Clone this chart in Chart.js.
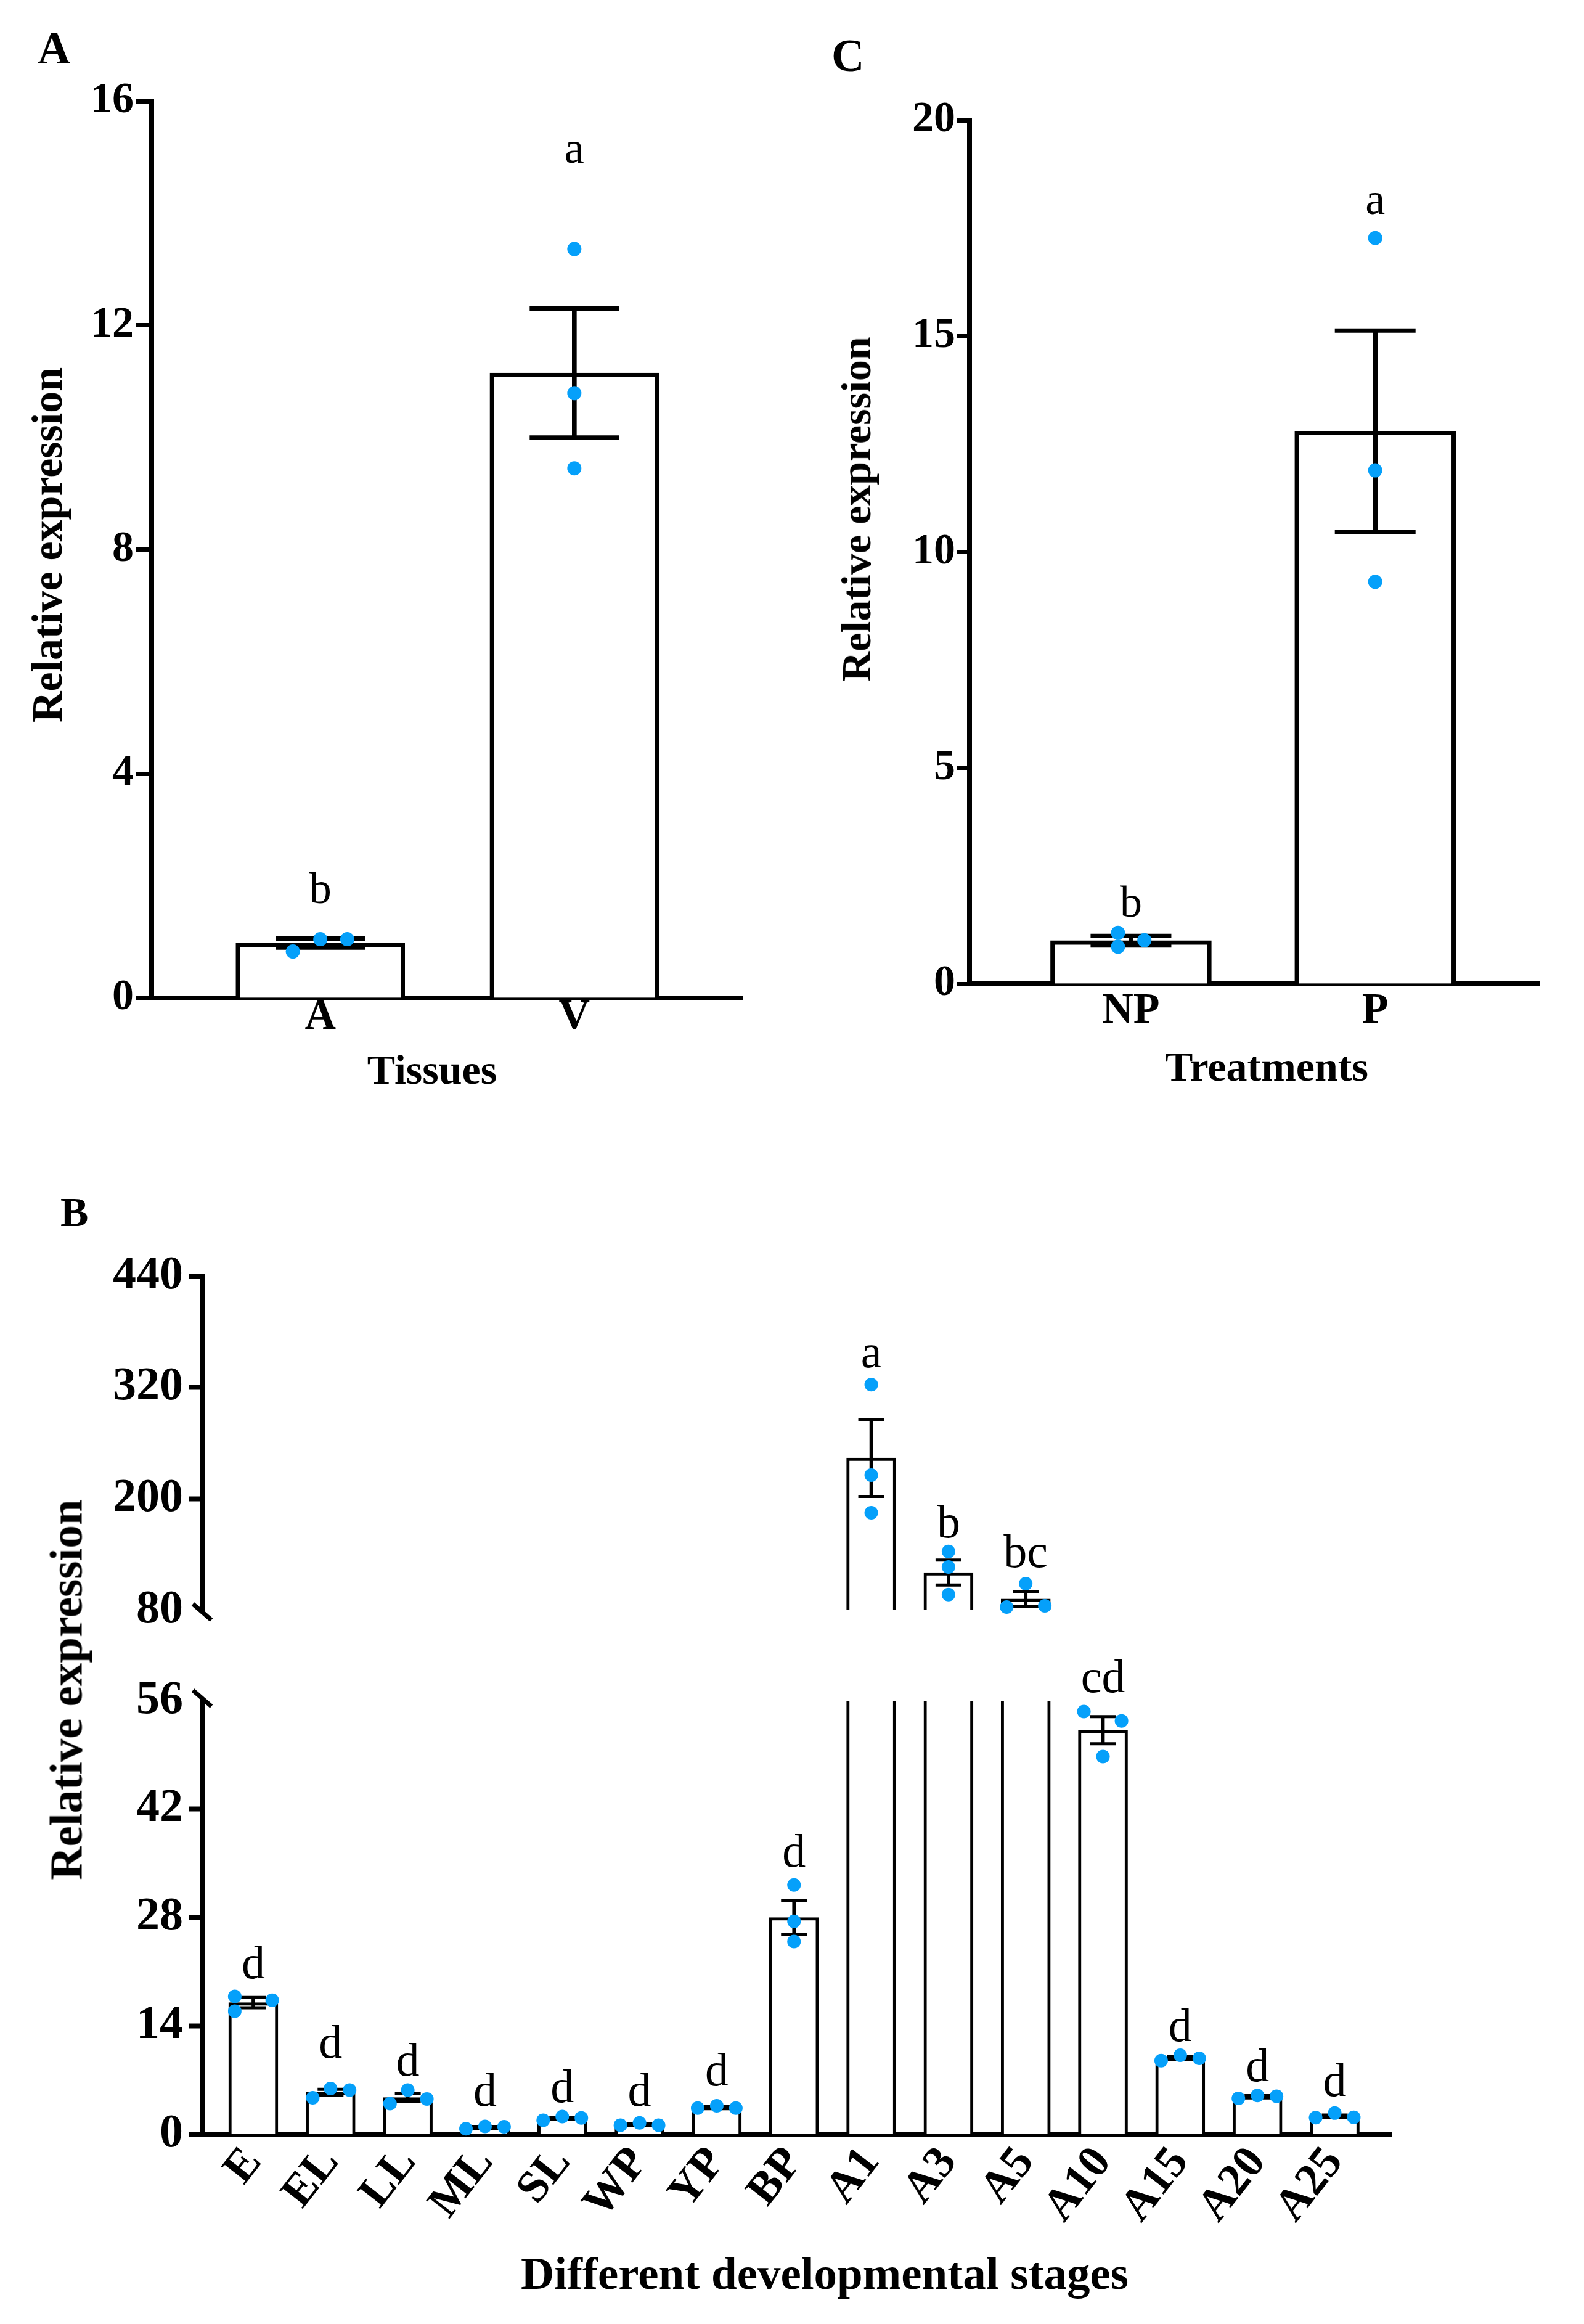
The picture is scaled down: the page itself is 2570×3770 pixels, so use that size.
<!DOCTYPE html>
<html>
<head>
<meta charset="utf-8">
<script src="https://cdn.jsdelivr.net/npm/chart.js@4.4.1/dist/chart.umd.min.js"></script>
<style>
  body { margin: 0; background: #fff; }
  #fig { position: relative; width: 2570px; height: 3770px; background: #fff; color: #000;
         font-family: 'Liberation Serif', 'Times New Roman', serif; }
  canvas { position: absolute; }
  .t { position: absolute; white-space: nowrap; line-height: 1; font-weight: bold; }
  .c { transform: translateX(-50%); }
  .v { transform: translate(-50%, -50%) rotate(-90deg); }
</style>
</head>
<body>
<div id="fig">
  <canvas id="chartA" width="1285" height="1800" style="left:0;top:0"></canvas>
  <canvas id="chartC" width="1285" height="1800" style="left:1285px;top:0"></canvas>
  <canvas id="chartBTop" width="2570" height="760" style="left:0;top:1900px"></canvas>
  <canvas id="chartBLow" width="2570" height="1110" style="left:0;top:2660px"></canvas>

  <div class="t" style="font-size:74px;left:61px;top:41px">A</div>
  <div class="t" style="font-size:74px;left:1349px;top:53px">C</div>
  <div class="t" style="font-size:68px;left:98px;top:1932px">B</div>

  <div class="t v" style="font-size:70px;left:77px;top:884px">Relative expression</div>
  <div class="t c" style="font-size:68px;left:701px;top:1701px">Tissues</div>
  <div class="t v" style="font-size:68px;left:1389px;top:826px">Relative expression</div>
  <div class="t c" style="font-size:68px;left:2055px;top:1696px">Treatments</div>
  <div class="t v" style="font-size:75px;left:107px;top:2741px">Relative expression</div>
  <div class="t c" style="font-size:75px;left:1338px;top:3650px">Different developmental stages</div>
</div>
<script>
// Panel A - tecidos
const tissues = ['A', 'V'];
const tissueMean = [0.98, 11.15];
const tissueSem = [0.08, 1.15];
const tissueReps = [[0.83, 1.05, 1.05], [13.36, 10.79, 9.45]];
const tissueSpread = [[-0.108, 0, 0.106], [0, 0, 0]];
const tissueLetters = ['b', 'a'];
const tissueLetterAt = [1.69, 14.9];
const tissueTicks = [0, 4, 8, 12, 16];

// Panel C - tratamentos
const treatments = ['NP', 'P'];
const treatMean = [1.0, 12.8];
const treatSem = [0.11, 2.33];
const treatReps = [[1.18, 0.86, 1.01], [17.27, 11.89, 9.31]];
const treatSpread = [[-0.053, -0.053, 0.055], [0, 0, 0]];
const treatLetters = ['b', 'a'];
const treatLetterAt = [1.56, 17.83];
const treatTicks = [0, 5, 10, 15, 20];

// Panel B - estágios
const stages = ['E', 'EL', 'LL', 'ML', 'SL', 'WP', 'YP', 'BP', 'A1', 'A3', 'A5', 'A10', 'A15', 'A20', 'A25'];
const stageMean = [17.0, 5.43, 4.73, 0.9, 2.06, 1.25, 3.46, 28.0, 244, 120.5, 92, 52.2, 9.8, 4.85, 2.3];
const stageSem = [0.67, 0.37, 0.55, 0.1, 0.14, 0.1, 0.1, 2.15, 41.5, 13.5, 8.3, 1.75, 0.2, 0.12, 0.17];
const stageReps = [
  [17.8, 15.9, 17.3], [4.7, 5.9, 5.7], [3.95, 5.7, 4.55], [0.7, 1.0, 0.96], [1.8, 2.27, 2.1],
  [1.15, 1.45, 1.15], [3.36, 3.66, 3.36], [32.2, 27.5, 24.9], [323, 225.5, 185], [143.3, 126.5, 96.8],
  [83.3, 108.6, 84.6], [54.6, 53.4, 48.8], [9.5, 10.2, 9.8], [4.62, 5.0, 4.9], [2.13, 2.72, 2.17]
];
const stageSpread = [
  [-0.24, -0.24, 0.245], [-0.23, 0, 0.247], [-0.23, 0, 0.247], [-0.247, 0, 0.247], [-0.247, 0, 0.247],
  [-0.247, 0, 0.247], [-0.247, 0, 0.247], [0, 0, 0], [0, 0, 0], [0, 0, 0],
  [-0.247, 0, 0.247], [-0.247, 0.24, 0], [-0.247, 0, 0.247], [-0.247, 0, 0.247], [-0.247, 0, 0.247]
];
const stageLetters = ['d', 'd', 'd', 'd', 'd', 'd', 'd', 'd', 'a', 'b', 'bc', 'cd', 'd', 'd', 'd'];
const stageLetterAt = [20.15, 9.85, 7.58, 3.66, 4.16, 3.66, 6.31, 34.6, 341.4, 158.4, 126.3, 57.1, 12.0, 6.88, 4.9];
const stageTicksTop = [80, 200, 320, 440];
const stageTicksLow = [0, 14, 28, 42, 56];
const breakValue = 80;

const serif = "'Liberation Serif', 'Times New Roman', serif";
const dotBlue = '#05a0fa';

// Letras de significância acima das barras
function lettersPlugin(letters, at, from, to, size) {
  return {
    id: 'sigLetters',
    afterDatasetsDraw(chart) {
      const { ctx, scales: { x, y } } = chart;
      ctx.save();
      ctx.font = size + 'px ' + serif;
      ctx.fillStyle = '#000';
      ctx.textAlign = 'center';
      ctx.textBaseline = 'alphabetic';
      letters.forEach((t, i) => {
        if (at[i] < from || at[i] >= to) return;
        ctx.fillText(t, x.getPixelForValue(i), y.getPixelForValue(at[i]));
      });
      ctx.restore();
    }
  };
}

// Marca de quebra do eixo y
function breakPlugin(edge) {
  return {
    id: 'axisBreak',
    afterDraw(chart) {
      const { ctx, chartArea: a } = chart;
      const cy = edge === 'bottom' ? a.bottom + 3 : a.top - 4;
      ctx.save();
      ctx.strokeStyle = '#000';
      ctx.lineWidth = 7;
      ctx.beginPath();
      ctx.moveTo(a.left - 15, cy - 13);
      ctx.lineTo(a.left + 15, cy + 13);
      ctx.stroke();
      ctx.restore();
    }
  };
}

function drawPanel(id, p) {
  const idx = p.cats.map((c, i) => i);
  const soft = { left: false, right: false, top: 14, bottom: 14 };
  const st = p.st;
  const zeroPad = s => { s.paddingLeft = s.paddingRight = s.paddingTop = s.paddingBottom = 0; };
  const plugins = [lettersPlugin(p.letters, p.letterAt, p.letterFrom, p.letterTo, st.letter)];
  if (p.brk) plugins.push(breakPlugin(p.brk));

  return new Chart(document.getElementById(id), {
    type: 'bar',
    data: {
      datasets: [
        {
          type: 'scatter',
          data: p.reps.flatMap((r, i) => r.map((v, k) => ({ x: i + p.spread[i][k], y: v }))),
          pointRadius: st.dot,
          pointHoverRadius: st.dot,
          pointBackgroundColor: dotBlue,
          pointBorderWidth: 0,
          order: 0,
          clip: soft
        },
        {
          type: 'scatter',
          data: idx.flatMap(i => [{ x: i, y: p.mean[i] + p.sem[i] }, { x: i, y: p.mean[i] - p.sem[i] }]),
          pointStyle: 'line',
          pointRadius: st.cap / 2,
          pointHoverRadius: st.cap / 2,
          pointBorderColor: '#000',
          pointBorderWidth: st.err,
          order: 1,
          clip: soft
        },
        {
          data: idx.map(i => ({ x: i, y: [p.mean[i] - p.sem[i], p.mean[i] + p.sem[i]] })),
          backgroundColor: '#000',
          borderWidth: 0,
          barThickness: st.err,
          grouped: false,
          order: 2,
          clip: 0
        },
        {
          data: idx.map(i => ({ x: i, y: p.mean[i] })),
          backgroundColor: '#fff',
          borderColor: '#000',
          borderWidth: st.bar,
          barThickness: st.barW,
          grouped: false,
          order: 3,
          clip: 0
        }
      ]
    },
    options: {
      responsive: false,
      animation: false,
      devicePixelRatio: 1,
      events: [],
      layout: { padding: p.pad },
      plugins: { legend: { display: false }, tooltip: { enabled: false } },
      scales: {
        x: {
          type: 'linear',
          offset: false,
          display: p.showX,
          min: p.xMin,
          max: p.xMax,
          afterBuildTicks: s => { s.ticks = idx.map(v => ({ value: v })); },
          afterFit: s => { s.height = p.xH; zeroPad(s); },
          grid: { display: false, drawTicks: false, offset: false },
          border: { display: true, color: '#000', width: st.axis },
          ticks: {
            autoSkip: false,
            maxRotation: p.rot,
            minRotation: p.rot,
            padding: p.xPad,
            color: '#000',
            font: { family: serif, weight: 'bold', size: st.xFont, lineHeight: 1 },
            callback: v => p.cats[v]
          }
        },
        y: {
          type: 'linear',
          min: p.yTicks[0],
          max: p.yTicks[p.yTicks.length - 1],
          afterBuildTicks: s => { s.ticks = p.yTicks.map(v => ({ value: v })); },
          afterFit: s => { s.width = p.yW; zeroPad(s); },
          grid: {
            drawOnChartArea: false,
            drawTicks: true,
            tickLength: st.tl,
            tickWidth: st.tw,
            tickColor: c => (c.tick && c.tick.value === p.hideTick) ? 'rgba(0,0,0,0)' : '#000'
          },
          border: { display: true, color: '#000', width: st.axis },
          ticks: {
            padding: st.tp,
            color: '#000',
            font: { family: serif, weight: 'bold', size: st.yFont, lineHeight: 1 }
          }
        }
      }
    },
    plugins: plugins
  });
}

const styleAC = { barW: 274, bar: 7, err: 7, cap: 145, dot: 11.5, axis: 8, tl: 25, tw: 7, tp: 4, yFont: 70, xFont: 70, letter: 72 };
const styleB = { barW: 80, bar: 5, err: 5, cap: 42, dot: 11, axis: 9, tl: 22, tw: 8, tp: 9, yFont: 76, xFont: 74, letter: 76 };

drawPanel('chartA', {
  cats: tissues, mean: tissueMean, sem: tissueSem, reps: tissueReps, spread: tissueSpread,
  letters: tissueLetters, letterAt: tissueLetterAt, letterFrom: -Infinity, letterTo: Infinity,
  yTicks: tissueTicks, xMin: -0.664, xMax: 1.664, showX: true, rot: 0, xPad: -3,
  pad: { left: 0, top: 164, right: 68, bottom: 0 }, yW: 246, xH: 181, st: styleAC
});

drawPanel('chartC', {
  cats: treatments, mean: treatMean, sem: treatSem, reps: treatReps, spread: treatSpread,
  letters: treatLetters, letterAt: treatLetterAt, letterFrom: -Infinity, letterTo: Infinity,
  yTicks: treatTicks, xMin: -0.661, xMax: 1.672, showX: true, rot: 0, xPad: 10,
  pad: { left: 0, top: 195, right: 58, bottom: 0 }, yW: 288, xH: 204,
  st: Object.assign({}, styleAC, { barW: 261, cap: 131, tl: 20, tp: 3 })
});

drawPanel('chartBTop', {
  cats: stages, mean: stageMean, sem: stageSem, reps: stageReps, spread: stageSpread,
  letters: stageLetters, letterAt: stageLetterAt, letterFrom: breakValue, letterTo: Infinity,
  yTicks: stageTicksTop, hideTick: stageTicksTop[0], brk: 'bottom',
  xMin: -0.662, xMax: 14.73, showX: false, rot: 0, xPad: 0,
  pad: { left: 0, top: 170, right: 313, bottom: 48 }, yW: 328, xH: 0, st: styleB
});

drawPanel('chartBLow', {
  cats: stages, mean: stageMean, sem: stageSem, reps: stageReps, spread: stageSpread,
  letters: stageLetters, letterAt: stageLetterAt, letterFrom: -Infinity, letterTo: breakValue,
  yTicks: stageTicksLow, hideTick: stageTicksLow[stageTicksLow.length - 1], brk: 'top',
  xMin: -0.662, xMax: 14.73, showX: true, rot: 52, xPad: 10,
  pad: { left: 0, top: 99, right: 313, bottom: 0 }, yW: 328, xH: 308, st: styleB
});
</script>
</body>
</html>
